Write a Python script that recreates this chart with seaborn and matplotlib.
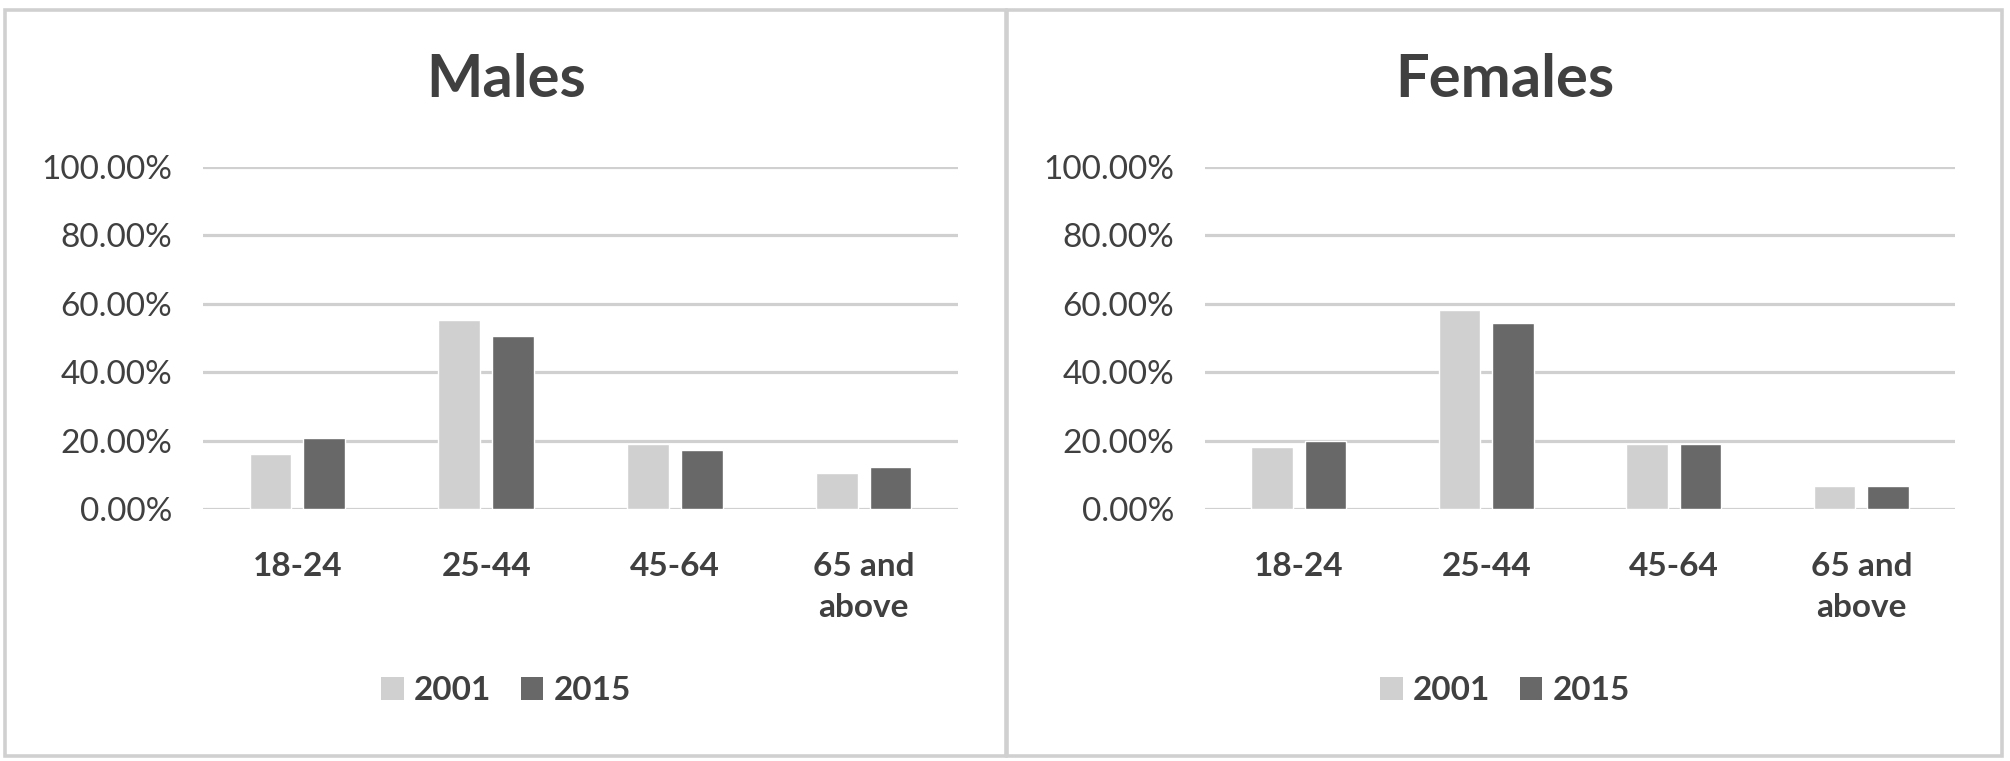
"""
Age distribution by sex, 2001 vs 2015 - two side-by-side bar panels.
"""
import matplotlib
matplotlib.use("Agg")
import matplotlib.pyplot as plt
import matplotlib.patches as mpatches
from matplotlib.ticker import PercentFormatter
import pandas as pd
import seaborn as sns

# --------------------- Data ---------------------
age_groups = ["18-24", "25-44", "45-64", "65 and\nabove"]
years = ["2001", "2015"]

males_2001 = [0.162, 0.554, 0.190, 0.106]
males_2015 = [0.209, 0.507, 0.172, 0.123]
females_2001 = [0.180, 0.582, 0.190, 0.068]
females_2015 = [0.199, 0.545, 0.190, 0.068]

panel_titles = ["Males", "Females"]
yticks = [0.0, 0.2, 0.4, 0.6, 0.8, 1.0]

year_colors = {"2001": "#d0d0d0", "2015": "#686868"}
text_color = "#404040"


def make_frame(v2001, v2015):
    return pd.DataFrame({
        "age": age_groups * 2,
        "year": ["2001"] * len(age_groups) + ["2015"] * len(age_groups),
        "share": v2001 + v2015,
    })


sns.set_theme(style="white")
plt.rcParams["font.family"] = ["Lato", "DejaVu Sans"]

W, H = 2010, 761
fig = plt.figure(figsize=(W / 100, H / 100), dpi=100)

# panel frames (figure pixel coords)
for x0, x1 in [(5, 1006), (1007, 2002)]:
    fig.patches.append(mpatches.Rectangle(
        (x0 / W, 5 / H), (x1 - x0) / W, (751 - 5) / H,
        transform=fig.transFigure, fill=False,
        edgecolor="#d0d0d0", linewidth=2.6))

# axes positions: (left px, right px)
ax_spans = [(203, 958), (1205, 1955)]
panel_centers = [506, 1505]
frames = [make_frame(males_2001, males_2015), make_frame(females_2001, females_2015)]

y0_px, y1_px = 509, 167
for (xl, xr), cx, title, df in zip(ax_spans, panel_centers, panel_titles, frames):
    ax = fig.add_axes([xl / W, 1 - y0_px / H, (xr - xl) / W, (y0_px - y1_px) / H])
    sns.barplot(data=df, x="age", y="share", hue="year", palette=year_colors,
                width=0.57, gap=0.225, saturation=1, ax=ax, legend=False, zorder=3)
    ax.set_xlim(-0.5, len(age_groups) - 0.5)
    ax.set_ylim(0, 1.0)
    ax.set_yticks(yticks)
    ax.yaxis.set_major_formatter(PercentFormatter(1.0, decimals=2))
    ax.grid(axis="y", color="#d0d0d0", linewidth=2.3, zorder=0)
    ax.set_axisbelow(True)
    for s in ax.spines.values():
        s.set_visible(False)
    ax.set_xlabel("")
    ax.set_ylabel("")
    ax.tick_params(axis="y", labelsize=24, labelcolor=text_color, length=0, pad=22)
    ax.tick_params(axis="x", labelsize=24, labelcolor=text_color, length=0, pad=31)
    for lbl in ax.get_xticklabels():
        lbl.set_fontweight("bold")
        lbl.set_linespacing(1.5)
        lbl.set_verticalalignment("top")

    fig.text(cx / W, 1 - 80 / H, title, ha="center", va="center",
             fontsize=43, fontweight="bold", color=text_color)

    handles = [mpatches.Patch(facecolor=year_colors[y], edgecolor="none", label=y) for y in years]
    fig.legend(handles=handles, loc="center", bbox_to_anchor=(cx / W, 1 - 691 / H),
               ncol=2, frameon=False, handlelength=0.67, handleheight=0.67,
               handletextpad=0.3, columnspacing=0.9,
               prop={"size": 24, "weight": "bold"}, labelcolor=text_color)

fig.savefig("out.png", dpi=100, facecolor="white")
